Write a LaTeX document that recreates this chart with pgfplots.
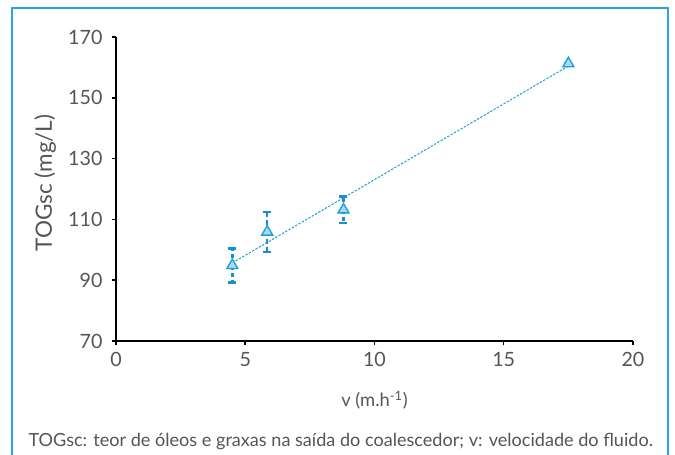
\documentclass[border=0pt]{standalone}
\usepackage{pgfplots}
\pgfplotsset{compat=1.18}
\usepackage{fontspec}
\setmainfont{Lato}
\definecolor{frameblue}{HTML}{2BA6DE}
\definecolor{ptblue}{HTML}{1A9FD8}
\definecolor{ptfill}{HTML}{A9DAF0}
\definecolor{errblue}{HTML}{1B8FCC}
\definecolor{txt}{HTML}{555555}

\begin{document}
\begin{tikzpicture}
% overall canvas (1px = 0.6pt, origin at axis corner)
\path[use as bounding box] (-69.6pt,-68.4pt) rectangle (335.4pt,204.6pt);
\draw[frameblue, line width=1pt] (-62.4pt,-70pt) -- (-62.4pt,199.8pt) -- (331.2pt,199.8pt) -- (331.2pt,-70pt);

\begin{axis}[
    at={(0,0)}, anchor=south west,
    scale only axis,
    width=310.2pt, height=182.3pt,
    xmin=0, xmax=20, ymin=70, ymax=170,
    axis x line=bottom, axis y line=left,
    axis line style={-, black, line width=0.9pt},
    xtick={0,5,10,15,20},
    ytick={70,90,110,130,150,170},
    tick align=outside,
    major tick length=2.6pt,
    tick style={black, line width=0.9pt},
    tick label style={font=\fontsize{11.8}{13}\selectfont, text=txt},
    /pgf/number format/assume math mode=true,
    xticklabel style={yshift=-0.5pt},
    yticklabel style={xshift=-2pt},
    xlabel={v (m.h\textsuperscript{-1})},
    ylabel={TOGsc (mg/L)},
    xlabel style={font=\fontsize{11}{12}\selectfont, text=txt, at={(axis description cs:0.5,-0.195)}, anchor=center},
    ylabel style={font=\fontsize{13.5}{14}\selectfont, text=txt, at={(axis description cs:-0.137,0.52)}, anchor=center},
    clip=false,
]
% trend line
\addplot[ptblue, line width=0.6pt, dash pattern=on 1.4pt off 0.9pt] coordinates {(4.5,95.7) (17.5,160.5)};
% measured points with error bars
\addplot[only marks, mark=triangle*, mark size=3.8pt,
    mark options={draw=ptblue, fill=ptfill, line width=0.8pt},
    error bars/.cd, y dir=both, y explicit,
    error bar style={errblue, line width=1.5pt, dash pattern=on 2.6pt off 1.8pt},
    error mark options={errblue, rotate=90, mark size=2.4pt, line width=1.5pt, solid}]
    coordinates {
    (4.5,94.9) +- (0,5.6)
    (5.85,105.9) +- (0,6.6)
    (8.8,113.2) +- (0,4.4)
    (17.5,161.3) +- (0,0)
    };
\end{axis}

\node[anchor=west, text=txt, font=\fontsize{10.85}{12}\selectfont] at (-56pt,-60pt)
  {TOGsc: teor de óleos e graxas na saída do coalescedor; v: velocidade do fluido.};
\end{tikzpicture}
\end{document}
